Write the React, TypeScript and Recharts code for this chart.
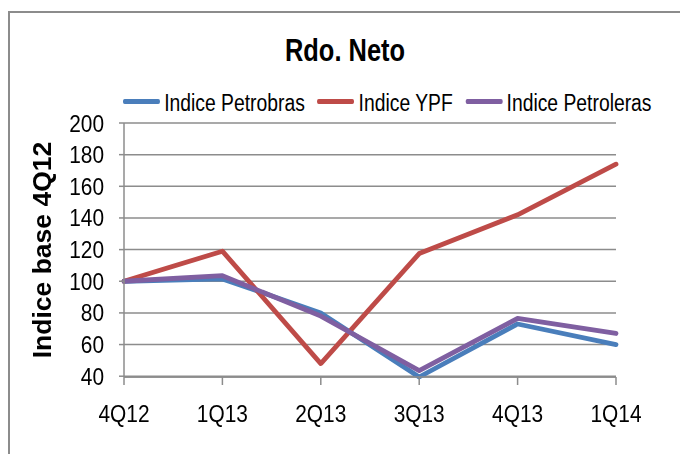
import React from 'react';
import { LineChart, Line, XAxis, YAxis, CartesianGrid } from 'recharts';

if (typeof document !== 'undefined') {
  document.documentElement.style.overflow = 'hidden';
  document.body.style.overflow = 'hidden';
}

const categories = ['4Q12', '1Q13', '2Q13', '3Q13', '4Q13', '1Q14'];
const petrobras = [100, 101.5, 80, 39.5, 73, 60];
const ypf = [100, 119, 48, 117.5, 142, 174];
const petroleras = [100, 103.5, 78, 43.5, 76.5, 67];
const yTicks = [40, 60, 80, 100, 120, 140, 160, 180, 200];

const seriesInfo = [
  { key: 'petrobras', name: 'Indice Petrobras', color: '#4A7EBB' },
  { key: 'ypf', name: 'Indice YPF', color: '#BE4B48' },
  { key: 'petroleras', name: 'Indice Petroleras', color: '#7F5FA1' },
];

const data = categories.map((c, i) => ({
  cat: c,
  petrobras: petrobras[i],
  ypf: ypf[i],
  petroleras: petroleras[i],
}));

const SANS = '"Liberation Sans", Arial, sans-serif';
const GRAY = '#8c8c8c';
const SQUEEZE = 0.87;

const W = 660;
const H = 425;

const XTick = (props: any) => {
  const { x, y, payload } = props;
  return (
    <text
      x={x}
      y={y}
      dy="0.71em"
      textAnchor="middle"
      fontSize={24}
      fontFamily={SANS}
      fill="#000"
      transform={`translate(${x} ${y}) scale(${SQUEEZE} 1) translate(${-x} ${-y})`}
    >
      {payload.value}
    </text>
  );
};

const YTick = (props: any) => {
  const { x, y, payload } = props;
  return (
    <text
      x={x}
      y={y}
      dy="0.355em"
      textAnchor="end"
      fontSize={24}
      fontFamily={SANS}
      fill="#000"
      transform={`translate(${x} ${y}) scale(${SQUEEZE} 1) translate(${-x} ${-y})`}
    >
      {payload.value}
    </text>
  );
};

const ChartLegend = () => (
  <div
    style={{
      position: 'absolute',
      top: 83,
      left: 115,
      display: 'flex',
      height: 24,
      transform: 'scaleX(0.84)',
      transformOrigin: '0 0',
      whiteSpace: 'nowrap',
    }}
  >
    {seriesInfo.map((s) => (
      <div key={s.key} style={{ display: 'flex', marginRight: 15, alignItems: 'flex-start' }}>
        <div style={{ width: 44, height: 4.5, borderRadius: 2, background: s.color, marginTop: 8, marginRight: 5 }} />
        <span style={{ fontFamily: SANS, fontSize: 23, lineHeight: '24px', color: '#000' }}>{s.name}</span>
      </div>
    ))}
  </div>
);

export default function App() {
  return (
    <div style={{ position: 'relative', width: W, height: H }}>
      <div style={{ position: 'fixed', left: 8, top: 11, width: 672, height: 2, background: GRAY }} />
      <div style={{ position: 'fixed', left: 8, top: 11, width: 2, height: 443, background: GRAY }} />
      <div
        style={{
          position: 'absolute',
          top: 27,
          left: 0,
          width: 664,
          paddingLeft: 10,
          boxSizing: 'border-box',
          textAlign: 'center',
          fontFamily: SANS,
          fontWeight: 'bold',
          fontSize: 31,
          lineHeight: '31px',
          color: '#000',
          transform: 'scaleX(0.82)',
          transformOrigin: '337px 0',
        }}
      >
        Rdo. Neto
      </div>
      <ChartLegend />
      <div style={{ position: 'absolute', left: 0, top: 0 }}>
        <LineChart width={W} height={H} data={data} margin={{ top: 115, right: 52, bottom: 16, left: 20 }}>
          <CartesianGrid horizontal vertical={false} stroke={GRAY} strokeWidth={1.5} />
          <XAxis
            dataKey="cat"
            height={40}
            axisLine={{ stroke: GRAY, strokeWidth: 1.5 }}
            tickLine={{ stroke: GRAY, strokeWidth: 1.5 }}
            tickSize={8}
            tickMargin={20}
            tick={<XTick />}
            interval={0}
          />
          <YAxis
            domain={[40, 200]}
            ticks={yTicks}
            interval={0}
            width={96}
            axisLine={{ stroke: GRAY, strokeWidth: 1.5 }}
            tickLine={{ stroke: GRAY, strokeWidth: 1.5 }}
            tickSize={5}
            tickMargin={15}
            tick={<YTick />}
            label={{
              value: 'Indice base 4Q12',
              angle: -90,
              position: 'insideLeft',
              offset: 14,
              style: { fontFamily: SANS, fontWeight: 'bold', fontSize: 26.5, fill: '#000', textAnchor: 'middle' },
            }}
          />
          {seriesInfo.map((s) => (
            <Line
              key={s.key}
              type="linear"
              dataKey={s.key}
              name={s.name}
              stroke={s.color}
              strokeWidth={4.8}
              strokeLinecap="round"
              strokeLinejoin="round"
              dot={false}
              activeDot={false}
              isAnimationActive={false}
            />
          ))}
        </LineChart>
      </div>
    </div>
  );
}
